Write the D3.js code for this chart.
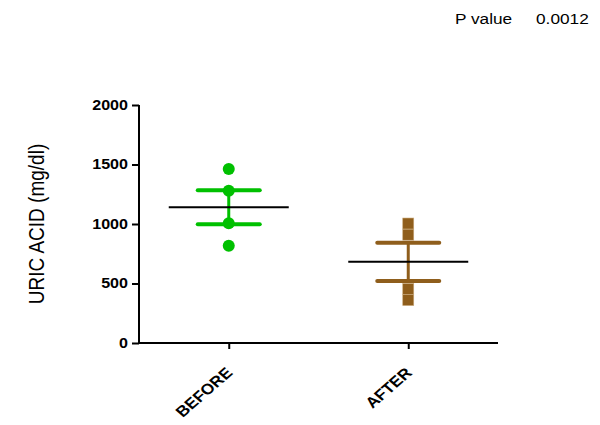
<!DOCTYPE html>
<html>
<head>
<meta charset="utf-8">
<script src="https://cdn.jsdelivr.net/npm/d3@7"></script>
<style>
  body { margin: 0; background: #fff; }
  svg { display: block; }
</style>
</head>
<body>
<svg id="chart" width="600" height="425"></svg>
<script>
// Uric acid levels per subject, before and after treatment
const groups = ["BEFORE", "AFTER"];
const beforeValues = [1462, 1280, 1006, 818];
const afterValues = [1004, 910, 454, 361];
const groupColors = ["#00c000", "#8f5e1c"];
const yTicks = [0, 500, 1000, 1500, 2000];
const pValueLabel = "P value";
const pValue = "0.0012";

const series = [beforeValues, afterValues];

const svg = d3.select("#chart");
const plotLeft = 139, plotRight = 498, plotTop = 105, plotBottom = 343;
const fontFamily = "Liberation Sans, Arial, sans-serif";
const stretch = "scale(1.15,1)"; // glyphs are drawn slightly wide

const x = d3.scalePoint().domain(groups).range([plotLeft, plotRight]).padding(0.5);
const y = d3.scaleLinear().domain([0, 2000]).range([plotBottom, plotTop]);

// Axes
const yAxis = svg.append("g")
  .attr("transform", `translate(${plotLeft},0)`)
  .call(d3.axisLeft(y).tickValues(yTicks).tickSize(7).tickFormat(d3.format("d")));
const xAxis = svg.append("g")
  .attr("transform", `translate(0,${plotBottom})`)
  .call(d3.axisBottom(x).tickSize(6).tickSizeOuter(0));

[yAxis, xAxis].forEach(a => {
  a.select(".domain").attr("stroke", "#000").attr("stroke-width", 2);
  a.selectAll(".tick line").attr("stroke", "#000").attr("stroke-width", 2);
  a.selectAll("text")
    .attr("fill", "#000")
    .style("font-family", fontFamily)
    .style("font-weight", "bold");
});
yAxis.select(".domain").attr("d", `M0,${plotTop}V${plotBottom}`);
xAxis.select(".domain").attr("d", `M${plotLeft},0H${plotRight}`);

yAxis.selectAll(".tick text")
  .style("font-size", "14px")
  .attr("x", 0)
  .attr("transform", `translate(-11,0) ${stretch}`);

xAxis.selectAll(".tick text")
  .style("font-size", "15px")
  .attr("text-anchor", "end")
  .attr("x", 0).attr("y", 0)
  .attr("dy", "0.35em")
  .attr("transform", `translate(0,27) ${stretch} rotate(-45)`);

// Y axis title
svg.append("text")
  .attr("transform", `translate(44,224) ${stretch} rotate(-90)`)
  .attr("text-anchor", "middle")
  .style("font-family", fontFamily)
  .style("font-size", "19px")
  .attr("fill", "#000")
  .text("URIC ACID (mg/dl)");

// P value annotation
svg.append("text")
  .attr("transform", `translate(455,24) ${stretch}`)
  .style("font-family", fontFamily)
  .style("font-size", "15px")
  .attr("fill", "#000")
  .text(pValueLabel);
svg.append("text")
  .attr("transform", `translate(536,24) ${stretch}`)
  .style("font-family", fontFamily)
  .style("font-size", "15px")
  .attr("fill", "#000")
  .text(pValue);

// Mean ± SEM and individual points
series.forEach((vals, i) => {
  const cx = x(groups[i]);
  const color = groupColors[i];
  const mean = d3.mean(vals);
  const sem = d3.deviation(vals) / Math.sqrt(vals.length);
  const g = svg.append("g");

  // error bar
  g.append("line")
    .attr("x1", cx).attr("x2", cx)
    .attr("y1", y(mean + sem)).attr("y2", y(mean - sem))
    .attr("stroke", color).attr("stroke-width", 3);
  [mean + sem, mean - sem].forEach(v => {
    g.append("line")
      .attr("x1", cx - 31).attr("x2", cx + 31)
      .attr("y1", y(v)).attr("y2", y(v))
      .attr("stroke", color).attr("stroke-width", 4).attr("stroke-linecap", "round");
  });

  // points
  if (i === 0) {
    g.selectAll("circle").data(vals).join("circle")
      .attr("cx", cx).attr("cy", d => y(d)).attr("r", 6)
      .attr("fill", color);
  } else {
    const s = 11;
    g.selectAll("rect").data(vals).join("rect")
      .attr("x", cx - s / 2).attr("y", d => y(d) - s / 2)
      .attr("width", s).attr("height", s)
      .attr("fill", color)
      .attr("stroke", "#c9a878").attr("stroke-width", 0.6);
  }

  // mean line
  g.append("line")
    .attr("x1", cx - 60).attr("x2", cx + 60)
    .attr("y1", y(mean)).attr("y2", y(mean))
    .attr("stroke", "#000").attr("stroke-width", 2);
});
</script>
</body>
</html>
